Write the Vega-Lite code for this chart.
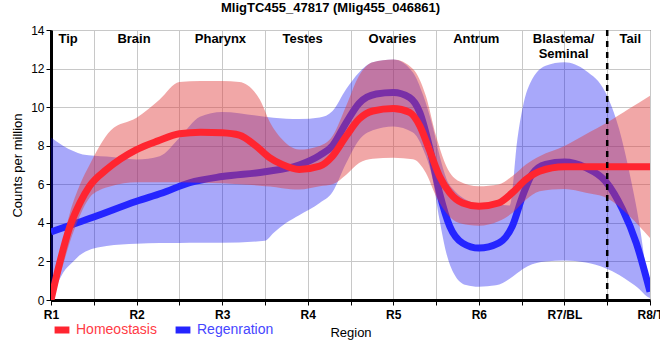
{
  "$schema": "https://vega.github.io/schema/vega-lite/v6.json",
  "width": 599,
  "height": 270,
  "autosize": {"type": "none"},
  "padding": {"left": 51, "top": 30, "right": 10, "bottom": 60},
  "title": {"text": "MligTC455_47817 (Mlig455_046861)", "font": "Liberation Sans", "fontSize": 13, "fontWeight": "bold", "color": "#000", "offset": 9, "dx": -20},
  "config": {
    "font": "Liberation Sans",
    "view": {"stroke": "#000", "strokeWidth": 1},
    "axis": {"gridColor": "#c8c8c8", "gridWidth": 1, "labelColor": "#000", "titleColor": "#000", "tickColor": "#000", "domainColor": "#000", "labelOverlap": false, "labelFlush": false},
    "axisX": {"values": [1, 2, 3, 4, 5, 6, 7, 8], "labelExpr": "['R1','R2','R3','R4','R5','R6','R7/BL','R8/T'][datum.value-1]", "titleFontSize": 13, "titleFontWeight": "normal", "titlePadding": 6, "labelFontSize": 12, "labelFontWeight": "bold", "labelPadding": 4, "tickSize": 5, "domainWidth": 3},
    "axisY": {"values": [0, 2, 4, 6, 8, 10, 12, 14], "tickCount": 7, "titleFontSize": 13, "titleFontWeight": "normal", "titlePadding": 6, "labelFontSize": 12, "tickSize": 5, "domainWidth": 3, "labelPadding": 2}
  },
  "datasets": {
    "lines": [
      {"s": "Homeostasis", "x": 1.0, "y": 0},
      {"s": "Homeostasis", "x": 1.1, "y": 1.9},
      {"s": "Homeostasis", "x": 1.22, "y": 3.8},
      {"s": "Homeostasis", "x": 1.34, "y": 5.05},
      {"s": "Homeostasis", "x": 1.45, "y": 5.9},
      {"s": "Homeostasis", "x": 1.65, "y": 6.77},
      {"s": "Homeostasis", "x": 2.0, "y": 7.8},
      {"s": "Homeostasis", "x": 2.25, "y": 8.25},
      {"s": "Homeostasis", "x": 2.5, "y": 8.62},
      {"s": "Homeostasis", "x": 2.75, "y": 8.7},
      {"s": "Homeostasis", "x": 3.0, "y": 8.67},
      {"s": "Homeostasis", "x": 3.2, "y": 8.55},
      {"s": "Homeostasis", "x": 3.4, "y": 7.97},
      {"s": "Homeostasis", "x": 3.55, "y": 7.4},
      {"s": "Homeostasis", "x": 3.7, "y": 7.03},
      {"s": "Homeostasis", "x": 3.9, "y": 6.77},
      {"s": "Homeostasis", "x": 4.14, "y": 6.94},
      {"s": "Homeostasis", "x": 4.29, "y": 7.46},
      {"s": "Homeostasis", "x": 4.45, "y": 8.5},
      {"s": "Homeostasis", "x": 4.6, "y": 9.38},
      {"s": "Homeostasis", "x": 4.76, "y": 9.8},
      {"s": "Homeostasis", "x": 5.0, "y": 9.93},
      {"s": "Homeostasis", "x": 5.19, "y": 9.73},
      {"s": "Homeostasis", "x": 5.31, "y": 9.03},
      {"s": "Homeostasis", "x": 5.42, "y": 7.8},
      {"s": "Homeostasis", "x": 5.54, "y": 6.42},
      {"s": "Homeostasis", "x": 5.66, "y": 5.56},
      {"s": "Homeostasis", "x": 5.81, "y": 5.03},
      {"s": "Homeostasis", "x": 6.0, "y": 4.86},
      {"s": "Homeostasis", "x": 6.23, "y": 5.03},
      {"s": "Homeostasis", "x": 6.39, "y": 5.56},
      {"s": "Homeostasis", "x": 6.55, "y": 6.25},
      {"s": "Homeostasis", "x": 6.71, "y": 6.68},
      {"s": "Homeostasis", "x": 7.0, "y": 6.91},
      {"s": "Homeostasis", "x": 7.5, "y": 6.91},
      {"s": "Homeostasis", "x": 8.0, "y": 6.91},
      {"s": "Regenration", "x": 1.0, "y": 3.53},
      {"s": "Regenration", "x": 1.5, "y": 4.3},
      {"s": "Regenration", "x": 2.0, "y": 5.12},
      {"s": "Regenration", "x": 2.3, "y": 5.55},
      {"s": "Regenration", "x": 2.62, "y": 6.08},
      {"s": "Regenration", "x": 3.0, "y": 6.4},
      {"s": "Regenration", "x": 3.5, "y": 6.65},
      {"s": "Regenration", "x": 3.9, "y": 7.0},
      {"s": "Regenration", "x": 4.14, "y": 7.5},
      {"s": "Regenration", "x": 4.29, "y": 8.0},
      {"s": "Regenration", "x": 4.45, "y": 9.2},
      {"s": "Regenration", "x": 4.6, "y": 10.2},
      {"s": "Regenration", "x": 4.8, "y": 10.68},
      {"s": "Regenration", "x": 5.0, "y": 10.76},
      {"s": "Regenration", "x": 5.19, "y": 10.5},
      {"s": "Regenration", "x": 5.31, "y": 9.72},
      {"s": "Regenration", "x": 5.42, "y": 7.99},
      {"s": "Regenration", "x": 5.54, "y": 5.56},
      {"s": "Regenration", "x": 5.66, "y": 3.82},
      {"s": "Regenration", "x": 5.81, "y": 2.95},
      {"s": "Regenration", "x": 6.0, "y": 2.69},
      {"s": "Regenration", "x": 6.23, "y": 2.95},
      {"s": "Regenration", "x": 6.39, "y": 3.82},
      {"s": "Regenration", "x": 6.51, "y": 5.38},
      {"s": "Regenration", "x": 6.62, "y": 6.51},
      {"s": "Regenration", "x": 6.78, "y": 7.03},
      {"s": "Regenration", "x": 7.0, "y": 7.15},
      {"s": "Regenration", "x": 7.25, "y": 6.86},
      {"s": "Regenration", "x": 7.48, "y": 6.16},
      {"s": "Regenration", "x": 7.68, "y": 4.69},
      {"s": "Regenration", "x": 7.84, "y": 2.95},
      {"s": "Regenration", "x": 8.0, "y": 0.43}
    ],
    "bands": [
      {"s": "Homeostasis", "x": 1.0, "lo": 0, "hi": 0},
      {"s": "Homeostasis", "x": 1.1, "lo": 1.2, "hi": 2.3},
      {"s": "Homeostasis", "x": 1.22, "lo": 3.0, "hi": 4.5},
      {"s": "Homeostasis", "x": 1.34, "lo": 4.4, "hi": 6.0},
      {"s": "Homeostasis", "x": 1.45, "lo": 5.3, "hi": 7.0},
      {"s": "Homeostasis", "x": 1.57, "lo": 5.7, "hi": 8.0},
      {"s": "Homeostasis", "x": 1.7, "lo": 5.9, "hi": 8.8},
      {"s": "Homeostasis", "x": 2.0, "lo": 6.1, "hi": 9.45},
      {"s": "Homeostasis", "x": 2.27, "lo": 6.1, "hi": 10.4},
      {"s": "Homeostasis", "x": 2.5, "lo": 6.1, "hi": 11.3},
      {"s": "Homeostasis", "x": 2.75, "lo": 6.08, "hi": 11.35},
      {"s": "Homeostasis", "x": 3.0, "lo": 6.05, "hi": 11.35},
      {"s": "Homeostasis", "x": 3.2, "lo": 6.0, "hi": 11.3},
      {"s": "Homeostasis", "x": 3.44, "lo": 5.93, "hi": 10.4},
      {"s": "Homeostasis", "x": 3.56, "lo": 5.88, "hi": 9.2},
      {"s": "Homeostasis", "x": 3.7, "lo": 5.8, "hi": 8.33},
      {"s": "Homeostasis", "x": 3.9, "lo": 5.73, "hi": 7.8},
      {"s": "Homeostasis", "x": 4.14, "lo": 5.9, "hi": 7.99},
      {"s": "Homeostasis", "x": 4.29, "lo": 6.0, "hi": 8.5},
      {"s": "Homeostasis", "x": 4.45, "lo": 6.5, "hi": 10.07},
      {"s": "Homeostasis", "x": 4.6, "lo": 7.1, "hi": 11.63},
      {"s": "Homeostasis", "x": 4.76, "lo": 7.33, "hi": 12.33},
      {"s": "Homeostasis", "x": 5.0, "lo": 7.38, "hi": 12.47},
      {"s": "Homeostasis", "x": 5.23, "lo": 7.3, "hi": 11.98},
      {"s": "Homeostasis", "x": 5.38, "lo": 6.6, "hi": 10.59},
      {"s": "Homeostasis", "x": 5.5, "lo": 5.38, "hi": 8.5},
      {"s": "Homeostasis", "x": 5.62, "lo": 4.51, "hi": 6.94},
      {"s": "Homeostasis", "x": 5.77, "lo": 3.99, "hi": 6.16},
      {"s": "Homeostasis", "x": 6.0, "lo": 3.85, "hi": 5.9},
      {"s": "Homeostasis", "x": 6.23, "lo": 4.08, "hi": 5.99},
      {"s": "Homeostasis", "x": 6.39, "lo": 4.51, "hi": 6.42},
      {"s": "Homeostasis", "x": 6.55, "lo": 5.2, "hi": 7.03},
      {"s": "Homeostasis", "x": 6.71, "lo": 5.64, "hi": 7.46},
      {"s": "Homeostasis", "x": 7.0, "lo": 5.76, "hi": 7.99},
      {"s": "Homeostasis", "x": 7.25, "lo": 5.56, "hi": 8.6},
      {"s": "Homeostasis", "x": 7.5, "lo": 5.28, "hi": 9.2},
      {"s": "Homeostasis", "x": 7.75, "lo": 4.4, "hi": 9.9},
      {"s": "Homeostasis", "x": 8.0, "lo": 3.21, "hi": 10.59},
      {"s": "Regenration", "x": 1.0, "lo": 0, "hi": 8.43},
      {"s": "Regenration", "x": 1.14, "lo": 1.4, "hi": 8.0},
      {"s": "Regenration", "x": 1.26, "lo": 2.0, "hi": 7.72},
      {"s": "Regenration", "x": 1.37, "lo": 2.43, "hi": 7.55},
      {"s": "Regenration", "x": 1.65, "lo": 2.8, "hi": 7.44},
      {"s": "Regenration", "x": 2.0, "lo": 2.92, "hi": 7.29},
      {"s": "Regenration", "x": 2.27, "lo": 2.95, "hi": 7.46},
      {"s": "Regenration", "x": 2.5, "lo": 2.96, "hi": 8.4},
      {"s": "Regenration", "x": 2.74, "lo": 2.97, "hi": 9.5},
      {"s": "Regenration", "x": 3.0, "lo": 2.97, "hi": 9.75},
      {"s": "Regenration", "x": 3.5, "lo": 3.07, "hi": 9.5},
      {"s": "Regenration", "x": 3.6, "lo": 3.47, "hi": 9.45},
      {"s": "Regenration", "x": 3.75, "lo": 4.0, "hi": 9.4},
      {"s": "Regenration", "x": 3.9, "lo": 4.4, "hi": 9.38},
      {"s": "Regenration", "x": 4.14, "lo": 5.03, "hi": 9.46},
      {"s": "Regenration", "x": 4.29, "lo": 5.6, "hi": 9.8},
      {"s": "Regenration", "x": 4.45, "lo": 7.1, "hi": 10.94},
      {"s": "Regenration", "x": 4.6, "lo": 8.3, "hi": 11.8},
      {"s": "Regenration", "x": 4.76, "lo": 8.8, "hi": 12.33},
      {"s": "Regenration", "x": 5.0, "lo": 9.0, "hi": 12.47},
      {"s": "Regenration", "x": 5.23, "lo": 8.68, "hi": 11.8},
      {"s": "Regenration", "x": 5.35, "lo": 7.8, "hi": 10.6},
      {"s": "Regenration", "x": 5.46, "lo": 6.25, "hi": 9.0},
      {"s": "Regenration", "x": 5.54, "lo": 4.17, "hi": 7.5},
      {"s": "Regenration", "x": 5.62, "lo": 2.43, "hi": 6.3},
      {"s": "Regenration", "x": 5.73, "lo": 1.21, "hi": 5.6},
      {"s": "Regenration", "x": 5.85, "lo": 0.78, "hi": 5.2},
      {"s": "Regenration", "x": 6.0, "lo": 0.69, "hi": 5.0},
      {"s": "Regenration", "x": 6.2, "lo": 0.76, "hi": 4.95},
      {"s": "Regenration", "x": 6.36, "lo": 1.1, "hi": 4.9},
      {"s": "Regenration", "x": 6.45, "lo": 1.4, "hi": 8.33},
      {"s": "Regenration", "x": 6.57, "lo": 1.75, "hi": 10.94},
      {"s": "Regenration", "x": 6.78, "lo": 2.0, "hi": 12.15},
      {"s": "Regenration", "x": 7.0, "lo": 2.05, "hi": 12.33},
      {"s": "Regenration", "x": 7.25, "lo": 1.94, "hi": 11.89},
      {"s": "Regenration", "x": 7.48, "lo": 1.65, "hi": 10.76},
      {"s": "Regenration", "x": 7.64, "lo": 1.3, "hi": 8.85},
      {"s": "Regenration", "x": 7.76, "lo": 0.95, "hi": 6.6},
      {"s": "Regenration", "x": 7.88, "lo": 0.55, "hi": 3.82},
      {"s": "Regenration", "x": 7.96, "lo": 0.2, "hi": 1.39},
      {"s": "Regenration", "x": 8.0, "lo": 0.1, "hi": 0.35}
    ],
    "regions": [
      {"label": "Tip", "x": 1.2},
      {"label": "Brain", "x": 1.97},
      {"label": "Pharynx", "x": 2.98},
      {"label": "Testes", "x": 3.94},
      {"label": "Ovaries", "x": 4.99},
      {"label": "Antrum", "x": 5.97},
      {"label": "Blastema/\nSeminal", "x": 6.99},
      {"label": "Tail", "x": 7.77}
    ],
    "cut": [{"x": 7.5}]
  },
  "layer": [
    {
      "data": {"name": "bands"},
      "transform": [{"filter": "datum.s == 'Regenration'"}],
      "mark": {"type": "area", "interpolate": "monotone", "color": "#0000f0", "opacity": 0.34},
      "encoding": {
        "x": {"field": "x", "type": "quantitative", "scale": {"domain": [1, 8], "nice": false, "zero": false}, "title": "Region"},
        "y": {"field": "lo", "type": "quantitative", "scale": {"domain": [0, 14], "nice": false}, "title": "Counts per million"},
        "y2": {"field": "hi"}
      }
    },
    {
      "data": {"name": "lines"},
      "transform": [{"filter": "datum.s == 'Regenration'"}],
      "mark": {"type": "line", "interpolate": "monotone", "strokeWidth": 7, "clip": true},
      "encoding": {
        "x": {"field": "x", "type": "quantitative", "title": "Region"},
        "y": {"field": "y", "type": "quantitative", "title": "Counts per million"},
        "color": {"field": "s", "type": "nominal", "scale": {"domain": ["Homeostasis", "Regenration"], "range": ["#ff2530", "#2525ff"]},
          "legend": {"title": null, "orient": "none", "legendX": 0, "legendY": 289, "direction": "horizontal", "symbolType": "stroke", "symbolStrokeWidth": 7, "symbolSize": 220, "labelFontSize": 14, "labelOffset": 3, "columnPadding": 4,
            "encode": {"labels": {"update": {"fill": {"signal": "datum.value == 'Homeostasis' ? '#ff3b46' : '#4646ff'"}}}}}}
      }
    },
    {
      "data": {"name": "bands"},
      "transform": [{"filter": "datum.s == 'Homeostasis'"}],
      "mark": {"type": "area", "interpolate": "monotone", "color": "#e03c3c", "opacity": 0.45},
      "encoding": {
        "x": {"field": "x", "type": "quantitative", "title": "Region"},
        "y": {"field": "lo", "type": "quantitative", "title": "Counts per million"},
        "y2": {"field": "hi"}
      }
    },
    {
      "data": {"name": "lines"},
      "transform": [{"filter": "datum.s == 'Homeostasis'"}],
      "mark": {"type": "line", "interpolate": "monotone", "strokeWidth": 7, "clip": true},
      "encoding": {
        "x": {"field": "x", "type": "quantitative", "title": "Region"},
        "y": {"field": "y", "type": "quantitative", "title": "Counts per million"},
        "color": {"field": "s", "type": "nominal"}
      }
    },
    {
      "data": {"name": "cut"},
      "mark": {"type": "rule", "color": "#000", "strokeWidth": 2.5, "strokeDash": [6, 5]},
      "encoding": {"x": {"field": "x", "type": "quantitative", "title": "Region"}}
    },
    {
      "data": {"name": "regions"},
      "mark": {"type": "text", "font": "Liberation Sans", "fontSize": 13, "fontWeight": "bold", "baseline": "top", "align": "center", "lineBreak": "\n", "dy": 3, "color": "#000"},
      "encoding": {
        "x": {"field": "x", "type": "quantitative", "title": "Region"},
        "y": {"datum": 14, "type": "quantitative", "title": "Counts per million"},
        "text": {"field": "label"}
      }
    }
  ]
}
